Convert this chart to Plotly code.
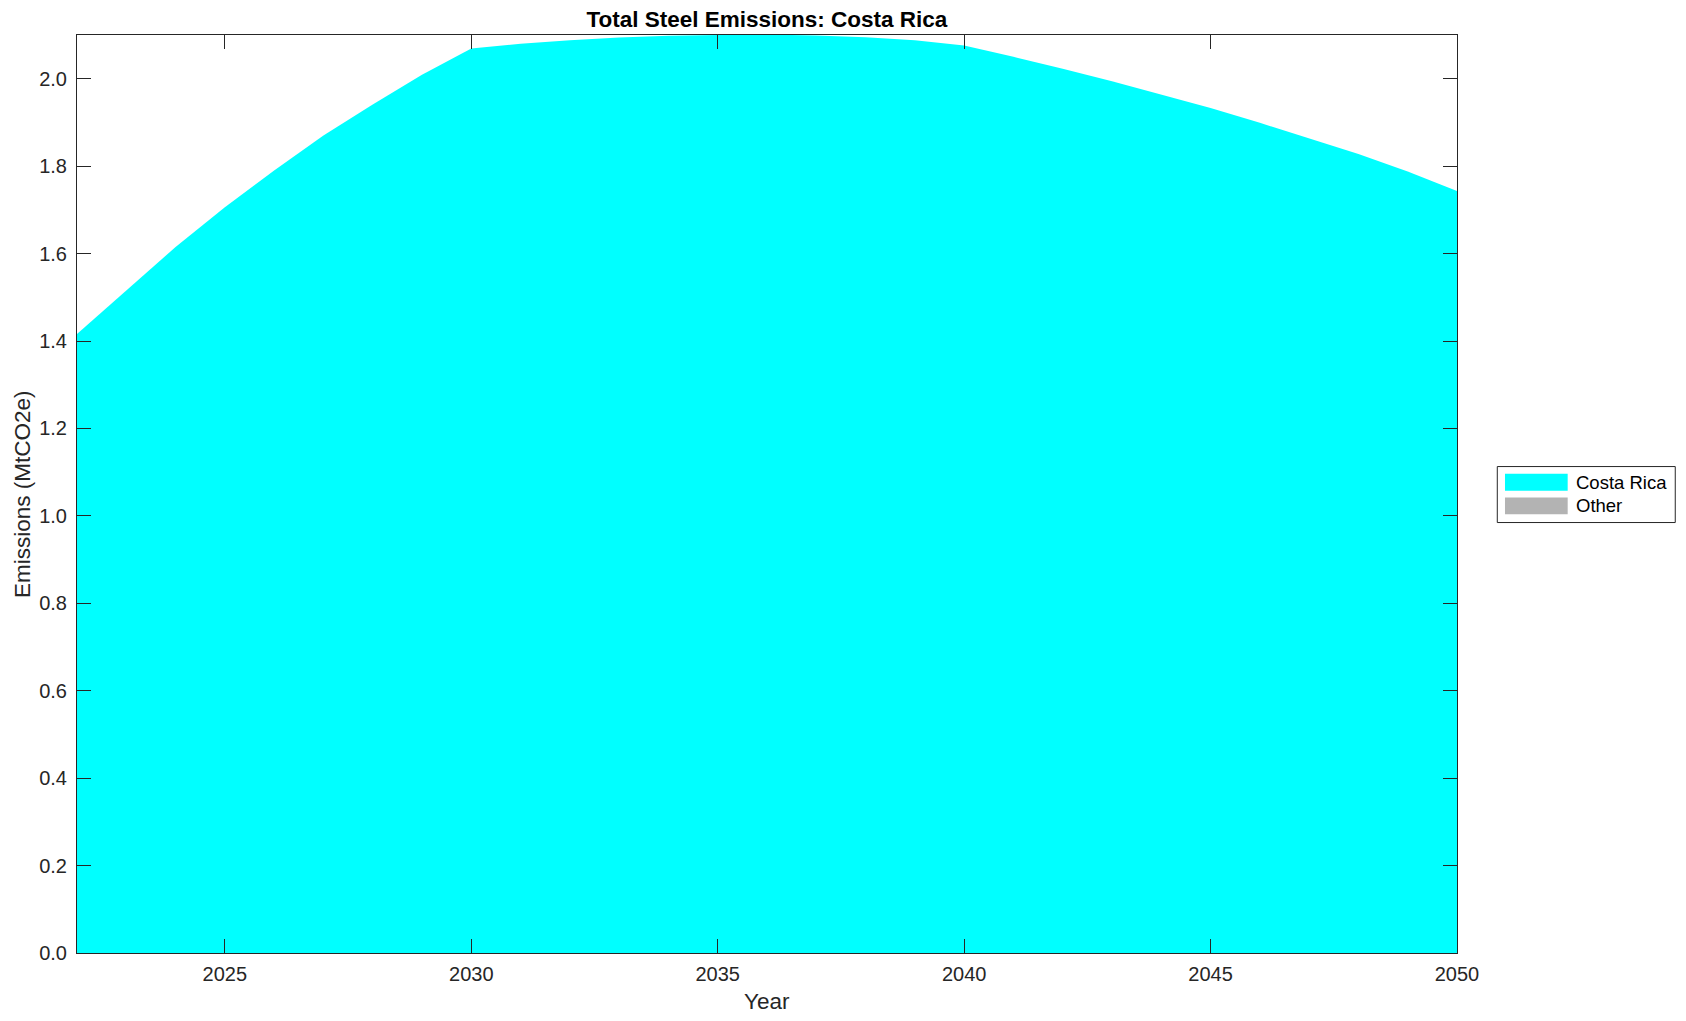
import plotly.graph_objects as go

years = list(range(2022, 2051))
costa_rica = [1.416, 1.515, 1.615, 1.706, 1.790, 1.870, 1.941, 2.009, 2.069,
              2.080, 2.088, 2.094, 2.098, 2.100, 2.101, 2.099, 2.095, 2.088,
              2.076, 2.050, 2.023, 1.994, 1.963, 1.933, 1.899, 1.864, 1.828,
              1.788, 1.743]
other = [0.0] * len(years)

series_names = ["Costa Rica", "Other"]
series_colors = ["#00FFFF", "#B3B3B3"]

x_ticks = [2025, 2030, 2035, 2040, 2045, 2050]
y_ticks = [0.0, 0.2, 0.4, 0.6, 0.8, 1.0, 1.2, 1.4, 1.6, 1.8, 2.0]

FONT = "Liberation Sans, Arial, Helvetica, sans-serif"
AXC = "#262626"

# figure / plot-area geometry (pixels, figure coordinates)
W, H = 1678, 1013
PL, PR, PT, PB = 68.7, 1449.0, 27.0, 945.3
PW, PH = PR - PL, PB - PT


def px(fx):
    return (fx - PL) / PW


def py(fy):
    return (PB - fy) / PH


fig = go.Figure()
fig.add_trace(go.Scatter(
    x=years, y=costa_rica, name=series_names[0], mode="lines",
    line=dict(width=0, color=series_colors[0]), fill="tozeroy",
    fillcolor=series_colors[0], stackgroup="one", showlegend=False))
fig.add_trace(go.Scatter(
    x=years, y=other, name=series_names[1], mode="lines",
    line=dict(width=0, color=series_colors[1]), fill="tonexty",
    fillcolor=series_colors[1], stackgroup="one", showlegend=False))

axis_common = dict(
    showgrid=False, zeroline=False, showline=True, linecolor=AXC, linewidth=1,
    mirror="ticks", ticks="inside", ticklen=14, tickwidth=1, tickcolor=AXC,
    tickfont=dict(family=FONT, size=20, color=AXC), automargin=False,
)

# manual legend (MATLAB-style wide patches)
shapes = [dict(type="rect", xref="paper", yref="paper",
               x0=px(1489.3), x1=px(1667.3), y0=py(514.7), y1=py(458.7),
               line=dict(color=AXC, width=1), fillcolor="white", layer="above")]
annotations = []
rows = [(466.0, 483.0), (489.7, 506.3)]
for name, color, (t, b) in zip(series_names, series_colors, rows):
    shapes.append(dict(type="rect", xref="paper", yref="paper",
                       x0=px(1497.0), x1=px(1559.7), y0=py(b), y1=py(t),
                       line=dict(width=0), fillcolor=color, layer="above"))
    annotations.append(dict(text=name, xref="paper", yref="paper",
                            x=px(1566.0), y=py((t + b) / 2),
                            xanchor="left", yanchor="middle", showarrow=False,
                            font=dict(family=FONT, size=18.5, color="black")))

# axis titles
annotations.append(dict(text="Year", xref="paper", yref="paper", x=0.5, y=0,
                        xanchor="center", yanchor="middle", yshift=-(994 - PB),
                        showarrow=False,
                        font=dict(family=FONT, size=22.5, color=AXC)))
annotations.append(dict(text="Emissions (MtCO2e)", xref="paper", yref="paper",
                        x=0, y=0.5, xanchor="center", yanchor="middle",
                        xshift=13.7 - PL, textangle=-90, showarrow=False,
                        font=dict(family=FONT, size=22.5, color=AXC)))

fig.update_layout(
    width=W, height=H,
    paper_bgcolor="white", plot_bgcolor="white",
    margin=dict(l=PL, r=W - PR, t=PT, b=H - PB, autoexpand=False),
    title=dict(text="<b>Total Steel Emissions: Costa Rica</b>",
               font=dict(family=FONT, size=22.5, color="black"),
               x=(PL + PR) / 2 / W, xanchor="center",
               y=1 - 11 / H, yanchor="middle"),
    xaxis=dict(range=[2022, 2050], tickvals=x_ticks,
               ticktext=[str(v) for v in x_ticks], ticklabelstandoff=3,
               **axis_common),
    yaxis=dict(range=[0, 2.1], tickvals=y_ticks,
               ticktext=[f"{v:.1f}" for v in y_ticks], ticklabelstandoff=5,
               **axis_common),
    shapes=shapes,
    annotations=annotations,
    showlegend=False,
)

fig.write_html("out.html")
